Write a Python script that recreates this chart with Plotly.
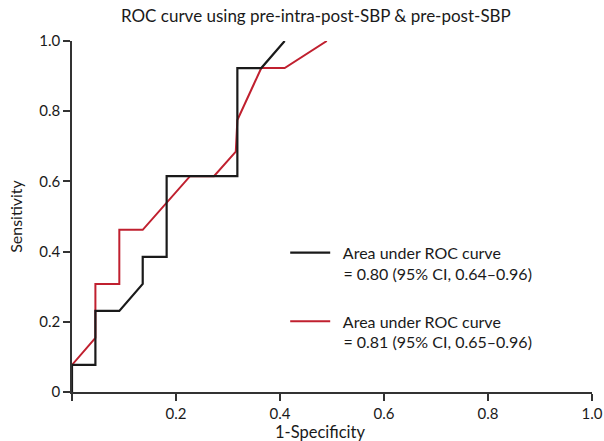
import plotly.graph_objects as go

# Black curve: pre-intra-post-SBP
fpr_black = [0.0, 0.0, 0.045, 0.045, 0.091, 0.136, 0.136, 0.182, 0.182, 0.318, 0.318, 0.364, 0.409]
tpr_black = [0.0, 0.077, 0.077, 0.231, 0.231, 0.308, 0.385, 0.385, 0.615, 0.615, 0.923, 0.923, 1.0]

# Red curve: pre-post-SBP
fpr_red = [0.0, 0.0, 0.045, 0.045, 0.091, 0.091, 0.136, 0.227, 0.273, 0.315, 0.318, 0.364, 0.409, 0.49]
tpr_red = [0.0, 0.077, 0.154, 0.308, 0.308, 0.462, 0.462, 0.615, 0.615, 0.685, 0.775, 0.923, 0.923, 1.0]

SP = "\u00a0\u00a0"
name_black = SP + "Area under ROC curve<br>" + SP + "= 0.80 (95% CI, 0.64–0.96)"
name_red = SP + "Area under ROC curve<br>" + SP + "= 0.81 (95% CI, 0.65–0.96)"

x_ticks = [0, 0.2, 0.4, 0.6, 0.8, 1.0]
x_ticktext = ["", "0.2", "0.4", "0.6", "0.8", "1.0"]
y_ticks = [0, 0.2, 0.4, 0.6, 0.8, 1.0]
y_ticktext = ["0", "0.2", "0.4", "0.6", "0.8", "1.0"]

FONT = "Lato"
BLACK = "#1a1a1a"
RED = "#c0202f"
AXIS = "#333333"
TXT = "#1a1a1a"

fig = go.Figure()
fig.add_trace(go.Scatter(x=fpr_red, y=tpr_red, mode="lines", name=name_red,
                         line=dict(color=RED, width=2), legendgroup="b", legendrank=2))
fig.add_trace(go.Scatter(x=fpr_black, y=tpr_black, mode="lines", name=name_black,
                         line=dict(color=BLACK, width=2.2), legendgroup="a", legendrank=1))

fig.update_layout(
    width=604, height=441,
    margin=dict(l=72, r=12, t=41, b=49),
    paper_bgcolor="white", plot_bgcolor="white",
    font=dict(family=FONT, size=15, color=TXT),
    title=dict(text="ROC curve using pre-intra-post-SBP & pre-post-SBP",
               x=0.523, xanchor="center", y=0.963, yanchor="middle",
               font=dict(family=FONT, size=17, color=TXT)),
    showlegend=True,
    legend=dict(x=0.41, y=0.445, xanchor="left", yanchor="top",
                bgcolor="rgba(0,0,0,0)", font=dict(family=FONT, size=16, color=TXT),
                valign="top", traceorder="grouped", tracegroupgap=24, itemwidth=40),
    xaxis=dict(range=[0, 1], tickvals=x_ticks, ticktext=x_ticktext, automargin=False,
               showgrid=False, zeroline=False, showline=True, linecolor=AXIS, linewidth=1.5,
               ticks="outside", ticklen=7, tickcolor=AXIS, tickwidth=1.5,
               tickfont=dict(family=FONT, size=15, color=TXT)),
    yaxis=dict(range=[0, 1], tickvals=y_ticks, ticktext=y_ticktext, automargin=False,
               showgrid=False, zeroline=False, showline=True, linecolor=AXIS, linewidth=1.5,
               ticks="outside", ticklen=7, tickcolor=AXIS, tickwidth=1.5,
               tickfont=dict(family=FONT, size=15, color=TXT),
               title=dict(text="Sensitivity", standoff=13,
                          font=dict(family=FONT, size=16, color=TXT))),
    annotations=[dict(text="1-Specificity", x=0.477, y=-0.114, xref="paper", yref="paper",
                      xanchor="center", yanchor="middle", showarrow=False,
                      font=dict(family=FONT, size=16.5, color=TXT))],
)

fig.write_html("out.html", config={"displayModeBar": False},
               post_script="document.body.style.margin='0';")
